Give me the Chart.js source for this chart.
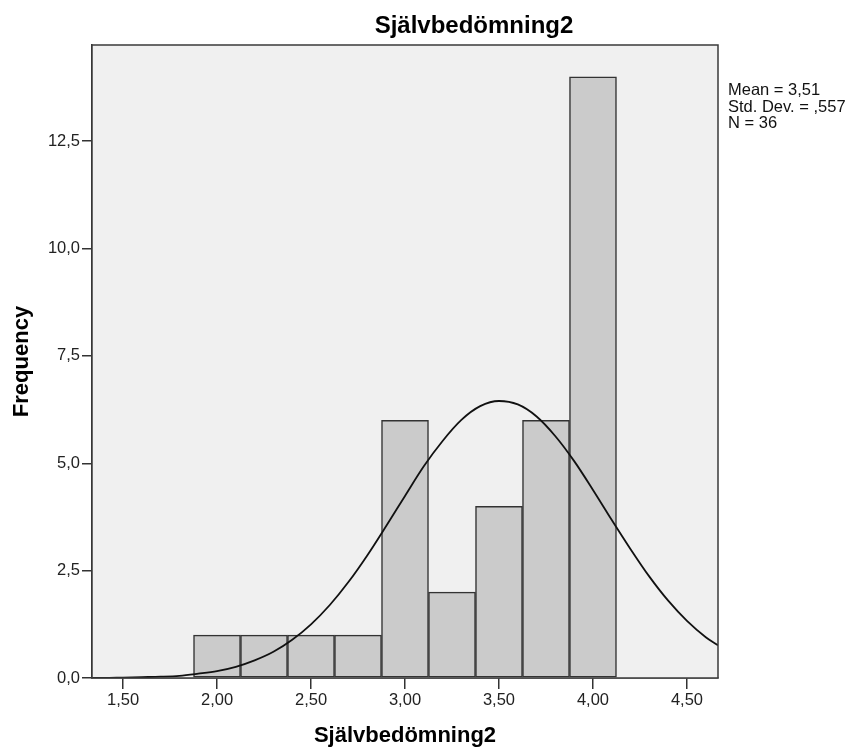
<!DOCTYPE html>
<html>
<head>
<meta charset="utf-8">
<script src="https://cdn.jsdelivr.net/npm/chart.js@4"></script>
<style>
html,body{margin:0;padding:0;background:#fff;}
#wrap{width:853px;height:752px;position:relative;}
</style>
</head>
<body>
<div id="wrap"><canvas id="c" width="853" height="752"></canvas></div>
<script>
// Data
const binCenters = [2.00, 2.25, 2.50, 2.75, 3.00, 3.25, 3.50, 3.75, 4.00];
const frequencies = [1, 1, 1, 1, 6, 2, 4, 6, 14];
const curveX = [1.335, 1.40, 1.50, 1.60, 1.70, 1.80, 1.90, 2.00, 2.10, 2.20, 2.30, 2.40, 2.50, 2.60, 2.70, 2.80, 2.90, 3.00, 3.10, 3.20, 3.30, 3.40, 3.50, 3.60, 3.70, 3.80, 3.90, 4.00, 4.10, 4.20, 4.30, 4.40, 4.50, 4.60, 4.665];
const curveY = [0.00, 0.00, 0.01, 0.02, 0.03, 0.05, 0.10, 0.16, 0.26, 0.41, 0.61, 0.89, 1.25, 1.70, 2.24, 2.86, 3.54, 4.24, 4.93, 5.52, 6.01, 6.33, 6.45, 6.37, 6.09, 5.63, 5.05, 4.38, 3.68, 3.00, 2.36, 1.80, 1.33, 0.95, 0.76];
const xTicks = [1.50, 2.00, 2.50, 3.00, 3.50, 4.00, 4.50];
const yTicks = [0, 2.5, 5.0, 7.5, 10.0, 12.5];
const titleText = "Självbedömning2";
const xTitle = "Självbedömning2";
const yTitle = "Frequency";
const statsLines = ["Mean = 3,51", "Std. Dev. = ,557", "N = 36"];

const fmt = (v, d) => v.toFixed(d).replace('.', ',');
const FONT = "'Liberation Sans', Arial, sans-serif";

const bgPlugin = {
  id: 'bgframe',
  beforeDatasetsDraw(chart) {
    const {ctx, chartArea: a} = chart;
    ctx.save();
    ctx.fillStyle = '#F0F0F0';
    ctx.fillRect(a.left, a.top, a.right - a.left, a.bottom - a.top);
    ctx.restore();
  },
  afterDraw(chart) {
    const {ctx, chartArea: a} = chart;
    ctx.save();
    ctx.strokeStyle = '#3a3a3a';
    ctx.lineWidth = 1.5;
    ctx.strokeRect(a.left, a.top, a.right - a.left, a.bottom - a.top);
    ctx.fillStyle = '#000';
    ctx.textAlign = 'center';
    ctx.textBaseline = 'middle';
    // title
    ctx.font = "bold 24px " + FONT;
    ctx.fillText(titleText, 474, 26);
    // x title
    ctx.font = "bold 22px " + FONT;
    ctx.fillText(xTitle, (a.left + a.right) / 2, 736);
    // y title
    ctx.save();
    ctx.translate(22, (a.top + a.bottom) / 2);
    ctx.rotate(-Math.PI / 2);
    ctx.fillText(yTitle, 0, 0);
    ctx.restore();
    // stats
    ctx.font = "16.5px " + FONT;
    ctx.fillStyle = '#111';
    ctx.textAlign = 'left';
    ctx.textBaseline = 'alphabetic';
    statsLines.forEach((s, i) => ctx.fillText(s, 728, 95 + i * 16.7));
    ctx.restore();
  }
};

new Chart(document.getElementById('c'), {
  data: {
    datasets: [
      {
        type: 'line',
        data: curveX.map((x, i) => ({x: x, y: curveY[i]})),
        borderColor: '#111',
        borderWidth: 1.8,
        pointRadius: 0,
        tension: 0.4,
        cubicInterpolationMode: 'monotone',
        fill: false,
        order: 0
      },
      {
        type: 'bar',
        data: binCenters.map((x, i) => ({x: x, y: frequencies[i]})),
        backgroundColor: '#CBCBCB',
        borderColor: '#333',
        borderWidth: 1.5,
        borderSkipped: false,
        barPercentage: 1.0,
        categoryPercentage: 1.0,
        grouped: false,
        order: 1
      }
    ]
  },
  options: {
    responsive: false,
    animation: false,
    devicePixelRatio: 1,
    layout: {padding: {top: 45, right: 135, bottom: 0, left: 0}},
    plugins: {legend: {display: false}, tooltip: {enabled: false}},
    scales: {
      x: {
        type: 'linear',
        offset: false,
        min: 1.335, max: 4.665,
        afterFit(s) { s.height = 74; },
        afterBuildTicks(s) { s.ticks = xTicks.map(v => ({value: v})); },
        ticks: {
          color: '#222', font: {family: FONT, size: 16.5}, padding: 2,
          callback: v => fmt(v, 2), maxRotation: 0, autoSkip: false
        },
        grid: {display: true, offset: false, drawOnChartArea: false, drawTicks: true, tickLength: 11, color: '#333', lineWidth: 1.5},
        border: {display: true, color: '#333', width: 1.5}
      },
      y: {
        type: 'linear',
        min: 0, max: 14.74,
        afterFit(s) { s.width = 92; },
        afterBuildTicks(s) { s.ticks = yTicks.map(v => ({value: v})); },
        ticks: {
          color: '#222', font: {family: FONT, size: 16.5}, padding: 2,
          callback: v => fmt(v, 1), autoSkip: false
        },
        grid: {display: true, drawOnChartArea: false, drawTicks: true, tickLength: 10, color: '#333', lineWidth: 1.5},
        border: {display: true, color: '#333', width: 1.5}
      }
    }
  },
  plugins: [bgPlugin]
});
</script>
</body>
</html>
